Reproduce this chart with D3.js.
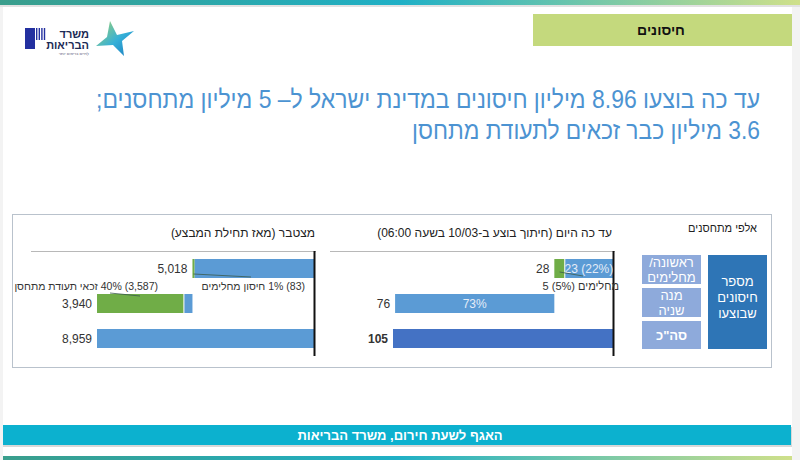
<!DOCTYPE html>
<html><head><meta charset="utf-8">
<script src="https://cdn.jsdelivr.net/npm/d3@7"></script>
<style>body{margin:0;background:#fff;}svg{display:block;font-family:"Liberation Sans","DejaVu Sans",sans-serif;}</style>
</head><body><svg id="c" width="800" height="460"></svg>
<script>
// ---- data ----
const rowKeys = ["first", "second", "total"];
const tableLabels = [["ראשונה/", "מחלימים"], ["מנה", "שניה"], ["סה\"כ"]];
// cumulative (thousands)
const cumFirst = 5018, cumRecovered = 83, cumSecond = 3940, cumCertified = 3587, cumTotal = 8959;
const cumValueLabels = ["5,018", "3,940", "8,959"];
const cumPctLabels = ["1%", "40%"];
// today (thousands)
const dayFirst = 28, dayFirstNew = 23, dayRecovered = 5, daySecond = 76, dayTotal = 105;
const dayValueLabels = ["28", "76", "105"];
const dayPctLabels = ["22%", "5%", "73%"];
const titleLines = ["עד כה בוצעו 8.96 מיליון חיסונים במדינת ישראל ל– 5 מיליון מתחסנים;", "3.6 מיליון כבר זכאים לתעודת מתחסן"];
const panelTitles = ["מצטבר (מאז תחילת המבצע)", "עד כה היום (חיתוך בוצע ב-10/03 בשעה 06:00)"];

const BLUE = "#5b9bd5", GREEN = "#70ad47", DARK = "#4472c4";
const svg = d3.select("#c");

// ---- page decoration ----
const defs = svg.append("defs");
const g1 = defs.append("linearGradient").attr("id", "topg");
g1.append("stop").attr("offset", "0%").attr("stop-color", "#3a9e8c");
g1.append("stop").attr("offset", "50%").attr("stop-color", "#1fb0c6");
g1.append("stop").attr("offset", "100%").attr("stop-color", "#cfe08a");
const g2 = defs.append("linearGradient").attr("id", "star").attr("x1", "0").attr("y1", "0").attr("x2", "1").attr("y2", "1");
g2.append("stop").attr("offset", "0%").attr("stop-color", "#a6d46a");
g2.append("stop").attr("offset", "55%").attr("stop-color", "#35b0d8");
g2.append("stop").attr("offset", "100%").attr("stop-color", "#1a78bd");

svg.append("rect").attr("x", 0).attr("y", 0).attr("width", 800).attr("height", 460).attr("fill", "#f3f3f3");
svg.append("rect").attr("x", 3).attr("y", 0).attr("width", 789).attr("height", 460).attr("fill", "#fff");
svg.append("rect").attr("x", 0).attr("y", 0).attr("width", 800).attr("height", 5).attr("fill", "url(#topg)");
svg.append("rect").attr("x", 0).attr("y", 5).attr("width", 800).attr("height", 2).attr("fill", "#e2e2e2");

// header box
svg.append("rect").attr("x", 533).attr("y", 14).attr("width", 259).attr("height", 32).attr("fill", "#c4d97d");
svg.append("text").attr("x", 661).attr("y", 35).attr("text-anchor", "middle").attr("font-size", 14)
  .attr("font-weight", "bold").attr("fill", "#111").text("חיסונים");

// logo
const lg = svg.append("g");
lg.append("rect").attr("x", 25).attr("y", 28).attr("width", 10).attr("height", 21).attr("fill", "#2330a0");
for (let i = 0; i < 4; i++) lg.append("rect").attr("x", 36 + i * 2.6).attr("y", 28).attr("width", 1.4).attr("height", 12).attr("fill", "#2330a0");
lg.append("text").attr("x", 89).attr("y", 38).attr("text-anchor", "end").attr("font-size", 11).attr("font-weight", "bold").attr("fill", "#1b2a55").text("משרד");
lg.append("text").attr("x", 89).attr("y", 49).attr("text-anchor", "end").attr("font-size", 11).attr("font-weight", "bold").attr("fill", "#1b2a55").text("הבריאות");
lg.append("text").attr("x", 89).attr("y", 55).attr("text-anchor", "end").attr("font-size", 4).attr("fill", "#557").text("לחיים בריאים יותר");
lg.append("path").attr("d", "M110,21 L117,35 L134,31 L122,41 L124,56 L113,45 L96,46 L107,37 Z").attr("fill", "url(#star)");

// main title
titleLines.forEach((t, i) => {
  svg.append("text").attr("x", 760).attr("y", 108 + i * 31).attr("direction", "rtl").attr("text-anchor", "start")
    .attr("font-size", 25).attr("fill", "#4c93d2")
    .attr("textLength", i === 0 ? 664 : 348).attr("lengthAdjust", "spacingAndGlyphs").text(t);
});

// panel frame
svg.append("rect").attr("x", 12.5).attr("y", 214.5).attr("width", 759).attr("height", 153).attr("fill", "#fff").attr("stroke", "#b9c2cc");

// footer
svg.append("rect").attr("x", 3).attr("y", 427).attr("width", 789).attr("height", 20).attr("fill", "#d8d8d8");
svg.append("rect").attr("x", 3).attr("y", 425).attr("width", 788).attr("height", 20).attr("fill", "#0cb1cf");
svg.append("text").attr("x", 400).attr("y", 440).attr("text-anchor", "middle").attr("font-size", 13).attr("font-weight", "bold")
  .attr("fill", "#fff").text("האגף לשעת חירום, משרד הבריאות");
svg.append("rect").attr("x", 3).attr("y", 456).attr("width", 789).attr("height", 4).attr("fill", "url(#topg)");

// ---- charts ----
const y = d3.scaleBand().domain(rowKeys).range([251, 356]).paddingInner(16 / 35).paddingOuter(8 / 35);

function panel(opts) {
  const g = svg.append("g");
  const x = d3.scaleLinear().domain([0, opts.max]).range([opts.x0, opts.x1]);
  g.append("text").attr("x", opts.titleX).attr("y", 237).attr("direction", "rtl").attr("text-anchor", "start")
    .attr("font-size", 12).attr("fill", "#222").text(opts.title);
  g.append("line").attr("x1", opts.lineL).attr("x2", opts.x0 + 2).attr("y1", 251.5).attr("y2", 251.5).attr("stroke", "#b8b8b8");
  g.selectAll("rect.bar").data(opts.segs).join("rect").attr("class", "bar")
    .attr("x", d => x(d.to)).attr("width", d => x(d.from) - x(d.to))
    .attr("y", d => y(d.row)).attr("height", y.bandwidth()).attr("fill", d => d.color);
  g.selectAll("text.val").data(opts.vals).join("text").attr("class", "val")
    .attr("x", d => x(d.end) - 5).attr("y", d => y(d.row) + y.bandwidth() / 2 + 4)
    .attr("text-anchor", "end").attr("font-size", 12).attr("fill", "#333")
    .attr("font-weight", d => d.bold ? "bold" : "normal").text(d => d.label);
  g.append("line").attr("x1", opts.x0 + 0.5).attr("x2", opts.x0 + 0.5).attr("y1", 251).attr("y2", 356).attr("stroke", "#111").attr("stroke-width", 2);
  return {g, x};
}

// cumulative panel
const cumSegs = [
  {row: "first", from: 0, to: cumFirst - cumRecovered, color: BLUE},
  {row: "first", from: cumFirst - cumRecovered, to: cumFirst, color: GREEN},
  {row: "second", from: cumFirst, to: cumFirst + cumSecond - cumCertified, color: BLUE},
  {row: "second", from: cumFirst + cumSecond - cumCertified, to: cumFirst + cumSecond, color: GREEN},
  {row: "total", from: 0, to: cumTotal, color: BLUE}
];
const cumVals = [
  {row: "first", end: cumFirst, label: cumValueLabels[0]},
  {row: "second", end: cumFirst + cumSecond, label: cumValueLabels[1]},
  {row: "total", end: cumTotal, label: cumValueLabels[2]}
];
const L = panel({max: cumTotal, x0: 314, x1: 97, segs: cumSegs, vals: cumVals, title: panelTitles[0], titleX: 315, lineL: 31});
L.g.append("line").attr("x1", L.x(cumFirst + cumSecond - cumCertified)).attr("x2", L.x(cumFirst + cumSecond - cumCertified))
  .attr("y1", y("second")).attr("y2", y("second") + y.bandwidth()).attr("stroke", "#fff").attr("stroke-width", 1);
const cumNotes = [
  {text: "(" + d3.format(",")(cumRecovered) + ") " + cumPctLabels[0] + " חיסון מחלימים", xr: 305,
   lx1: L.x(cumFirst - cumRecovered / 2), ly1: y("first") + 15, lx2: 251, ly2: 277},
  {text: "(" + d3.format(",")(cumCertified) + ") " + cumPctLabels[1] + " זכאי תעודת מתחסן", xr: 158,
   lx1: 140, ly1: y("second") + 2, lx2: 110, ly2: 293}
];
cumNotes.forEach(n => {
  L.g.append("line").attr("x1", n.lx1).attr("y1", n.ly1).attr("x2", n.lx2).attr("y2", n.ly2).attr("stroke", "#3a5a4a").attr("stroke-width", 0.8);
  L.g.append("text").attr("x", n.xr).attr("y", 290).attr("direction", "rtl").attr("text-anchor", "start")
    .attr("font-size", 10.5).attr("fill", "#333").text(n.text);
});

// today panel
const daySegs = [
  {row: "first", from: 0, to: dayFirstNew, color: BLUE},
  {row: "first", from: dayFirstNew, to: dayFirst, color: GREEN},
  {row: "second", from: dayFirst, to: dayFirst + daySecond, color: BLUE},
  {row: "total", from: 0, to: dayTotal, color: DARK}
];
const dayVals = [
  {row: "first", end: dayFirst, label: dayValueLabels[0]},
  {row: "second", end: dayFirst + daySecond, label: dayValueLabels[1]},
  {row: "total", end: dayTotal, label: dayValueLabels[2], bold: true}
];
const R = panel({max: dayTotal, x0: 613, x1: 393, segs: daySegs, vals: dayVals, title: panelTitles[1], titleX: 612, lineL: 330});
R.g.append("line").attr("x1", R.x(dayFirstNew)).attr("x2", R.x(dayFirstNew))
  .attr("y1", y("first")).attr("y2", y("first") + y.bandwidth()).attr("stroke", "#fff").attr("stroke-width", 1);
R.g.append("text").attr("x", (R.x(0) + R.x(dayFirstNew)) / 2).attr("y", y("first") + y.bandwidth() / 2 + 4)
  .attr("text-anchor", "middle").attr("font-size", 12).attr("fill", "#e4ecf7")
  .text(dayFirstNew + " (" + dayPctLabels[0] + ")");
R.g.append("text").attr("x", (R.x(dayFirst) + R.x(dayFirst + daySecond)) / 2).attr("y", y("second") + y.bandwidth() / 2 + 4)
  .attr("text-anchor", "middle").attr("font-size", 12).attr("fill", "#e4ecf7")
  .text(dayPctLabels[2]);
R.g.append("line").attr("x1", R.x(dayFirstNew + dayRecovered / 2)).attr("y1", y("first") + 13).attr("x2", 583).attr("y2", 276)
  .attr("stroke", "#3a5a4a").attr("stroke-width", 0.8);
R.g.append("text").attr("x", 619).attr("y", 290).attr("direction", "rtl").attr("text-anchor", "start")
  .attr("font-size", 11).attr("fill", "#333")
  .text("מחלימים (" + dayPctLabels[1] + ") " + dayRecovered);

// table legend
svg.append("text").attr("x", 757).attr("y", 232).attr("direction", "rtl").attr("text-anchor", "start")
  .attr("font-size", 11).attr("fill", "#222").text("אלפי מתחסנים");
const tg = svg.append("g");
tg.selectAll("rect.t").data(rowKeys).join("rect").attr("class", "t")
  .attr("x", 642).attr("width", 59)
  .attr("y", (d, i) => [255, 288, 321][i]).attr("height", (d, i) => [29, 29, 28][i]).attr("fill", "#8eaadb");
tableLabels.forEach((lines, i) => {
  const cy = [269.5, 302.5, 335][i];
  lines.forEach((t, j) => {
    tg.append("text").attr("x", 671.5).attr("y", cy + 5 + (j - (lines.length - 1) / 2) * 15)
      .attr("direction", "rtl").attr("text-anchor", "middle").attr("font-size", 13).attr("fill", "#fff")
      .attr("font-weight", i === 2 ? "bold" : "normal").text(t);
  });
});
tg.append("rect").attr("x", 708).attr("y", 255).attr("width", 59).attr("height", 94).attr("fill", "#2e75b6");
["מספר", "חיסונים", "שבוצעו"].forEach((t, j) => {
  tg.append("text").attr("x", 737.5).attr("y", 286 + j * 16).attr("text-anchor", "middle")
    .attr("font-size", 13).attr("fill", "#fff").text(t);
});
</script></body></html>
